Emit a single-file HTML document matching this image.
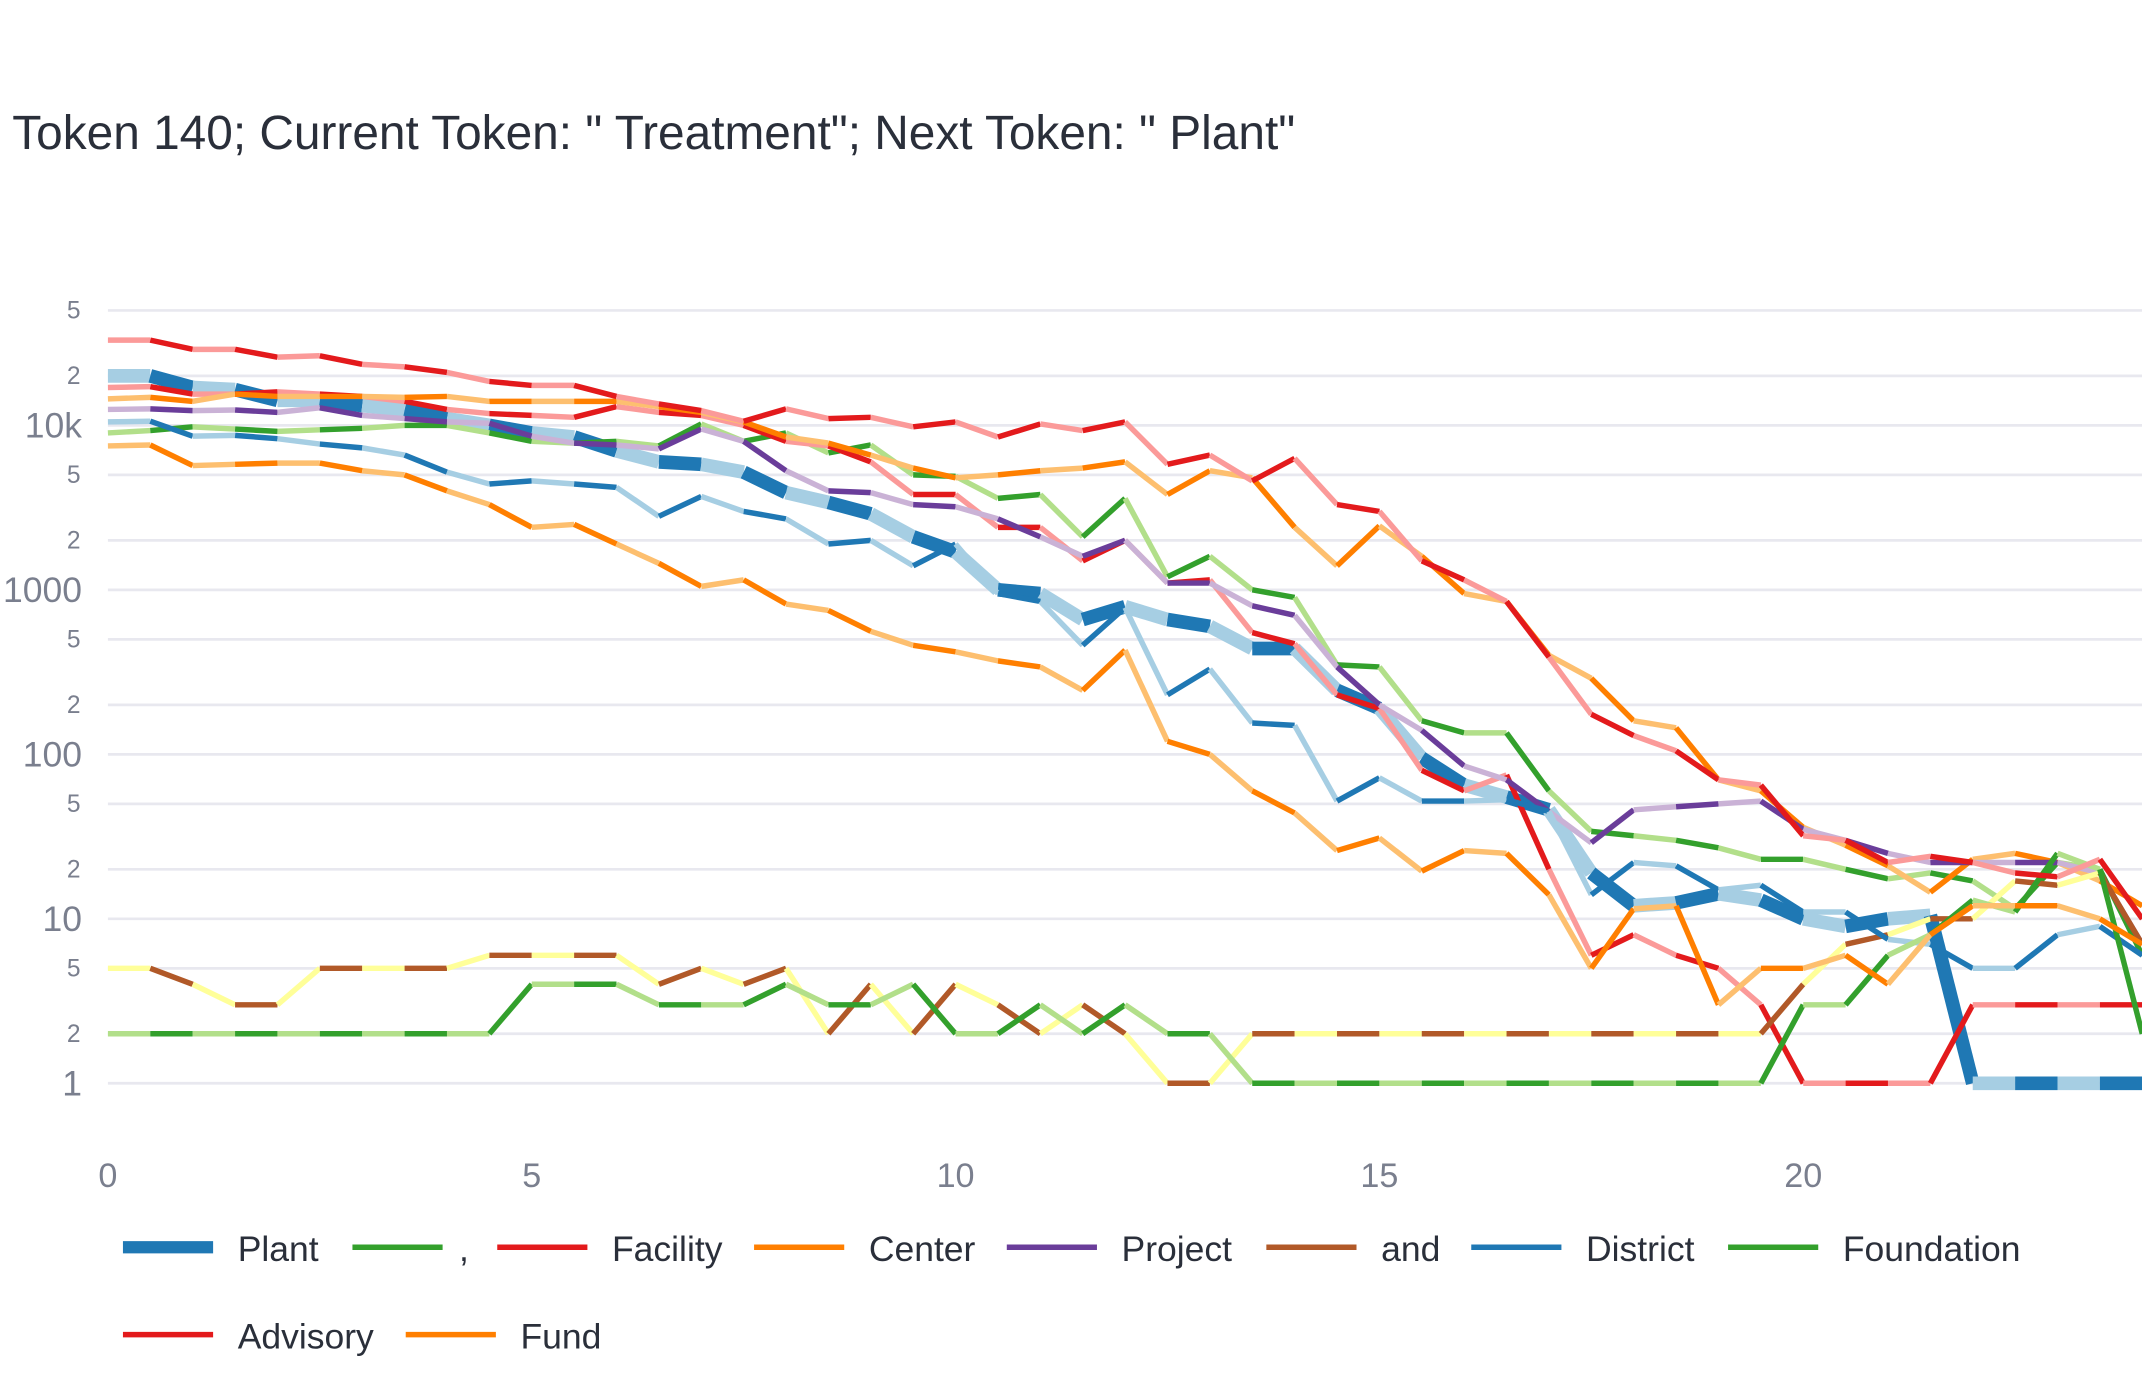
<!DOCTYPE html>
<html><head><meta charset="utf-8"><style>
html,body{margin:0;padding:0;background:#fff;}
svg{display:block;font-family:"Liberation Sans",sans-serif;}
</style></head><body>
<svg id="chart" width="2142" height="1380" viewBox="0 0 1568 1010.2" preserveAspectRatio="none" xmlns="http://www.w3.org/2000/svg">
<text x="9" y="109" font-size="35" fill="#2a2f3a">Token 140; Current Token: " Treatment"; Next Token: " Plant"</text>
<g id="grid"></g><g id="yticks"></g><g id="xticks"></g><g id="lines"></g><g id="legend"></g>
</svg>
<script>
const xs = [0,0.5,1,1.5,2,2.5,3,3.5,4,4.5,5,5.5,6,6.5,7,7.5,8,8.5,9,9.5,10,10.5,11,11.5,12,12.5,13,13.5,14,14.5,15,15.5,16,16.5,17,17.5,18,18.5,19,19.5,20,20.5,21,21.5,22,22.5,23,23.5,24];
const seriesNames = ["Plant", ",", "Facility", "Center", "Project", "and", "District", "Foundation", "Advisory", "Fund"];
const plant = [20000,20000,17000,16500,14200,14200,13200,12400,11000,10000,9000,8500,7000,6000,5800,5200,3900,3400,2900,2100,1700,1000,950,660,790,660,600,440,440,245,190,95,65,55,46,19,12,12.5,14.2,13,10,9,10,10.5,1,1,1,1,1];
const comma = [9000,9300,9800,9500,9200,9400,9600,10000,10000,9000,8000,7800,8000,7500,10200,8000,9000,6800,7600,5000,4900,3600,3800,2100,3600,1200,1600,1000,900,350,340,160,135,135,60,34,32,30,27,23,23,20,17.5,19,17,11.5,22,20,6];
const facility = [17000,17200,15500,15500,16000,15500,15000,14000,12500,11800,11500,11200,13000,12000,11500,10000,8000,7500,6000,3800,3800,2400,2400,1500,2000,1100,1150,550,470,230,190,80,60,75,20,6,8,6,5,3,1,1,1,1,3,3,3,3,3];
const center = [14500,14800,14000,15500,15000,15000,15000,14800,15000,14000,14000,14000,14000,13000,12000,10500,8500,7800,6600,5500,4800,5000,5300,5500,6000,3800,5300,4800,2400,1400,2450,1600,950,850,400,290,160,145,70,60,36,28,21,14.5,23,25,22,17,12];
const project = [12500,12600,12300,12400,12000,12800,11500,11000,10500,10300,8600,7800,7600,7200,9500,8000,5300,4000,3900,3300,3200,2700,2100,1600,2000,1100,1100,800,700,340,200,140,85,70,45,29,46,48,50,52,35,30,25,22,22,22,22,19,7];
const andS = [5,5,4,3,3,5,5,5,5,6,6,6,6,4,5,4,5,2,4,2,4,3,2,3,2,1,1,2,2,2,2,2,2,2,2,2,2,2,2,2,4,7,8,10,10,17,16,19,7];
const district = [10500,10600,8600,8700,8300,7700,7300,6600,5200,4400,4600,4400,4200,2800,3700,3000,2700,1900,2000,1400,1900,950,850,460,780,230,330,155,150,52,72,52,52,53,45,14,22,21,15,16,11,11,7.5,7,5,5,8,9,6];
const foundation = [2,2,2,2,2,2,2,2,2,2,4,4,4,3,3,3,4,3,3,4,2,2,3,2,3,2,2,1,1,1,1,1,1,1,1,1,1,1,1,1,3,3,6,8,13,11,25,20,2];
const advisory = [33000,33000,29000,29000,26000,26500,23500,22700,21000,18500,17500,17500,15000,13500,12300,10600,12600,11000,11200,9800,10500,8500,10200,9300,10500,5800,6600,4600,6300,3300,3000,1500,1150,850,390,175,130,105,70,65,32,30,22,24,22,19,18,23,10];
const fund = [7500,7600,5700,5800,5900,5900,5300,5000,4000,3300,2400,2500,1900,1450,1050,1150,820,750,560,460,420,370,340,245,430,120,100,60,44,26,31,19.5,26,25,14,5,11.5,12,3,5,5,6,4,8,12,12,12,10,7];
const xTickVals = [0,5,10,15,20];
const yMajor = [1,10,100,1000,10000];
const yMajorLabels = ["1","10","100","1000","10k"];

const NS="http://www.w3.org/2000/svg";
const X0=79, XU=62.05, Y1=793, YD=120.4, XMAX=1568;
function xScale(v){return X0+XU*v;}
function yScale(v){return Y1-YD*Math.log10(v);}
function mk(tag,attrs,parent){const e=document.createElementNS(NS,tag);for(const k in attrs)e.setAttribute(k,attrs[k]);parent.appendChild(e);return e;}
const grid=document.getElementById('grid'), yt=document.getElementById('yticks'), xt=document.getElementById('xticks');
for(let d=0; d<5; d++){
  const base=Math.pow(10,d);
  [1,2,5].forEach(m=>{
    const v=base*m; const y=yScale(v);
    const g=mk('line',{x1:X0,x2:XMAX,y1:y,y2:y,stroke:'#e8e8ef','stroke-width':2},grid);
    
    
    const t=mk('text',{x:m===1?60:59,y:y+(m===1?9:6),'text-anchor':'end','font-size':m===1?26:18,fill:'#7a7f8e'},yt);
    t.textContent = m===1 ? yMajorLabels[d] : String(m);
    
    
  });
}
xTickVals.forEach(v=>{
  const t=mk('text',{x:xScale(v),y:869,'text-anchor':'middle','font-size':25,fill:'#7a7f8e'},xt);
  t.textContent=String(v);
  
  
});
const series=[
 {d:plant,dark:'#1f78b4',light:'#a6cee3',w:10},
 {d:comma,dark:'#33a02c',light:'#b2df8a',w:4},
 {d:facility,dark:'#e31a1c',light:'#fb9a99',w:4},
 {d:center,dark:'#ff7f00',light:'#fdbf6f',w:4},
 {d:project,dark:'#6a3d9a',light:'#cab2d6',w:4},
 {d:andS,dark:'#b15928',light:'#ffff99',w:4},
 {d:district,dark:'#1f78b4',light:'#a6cee3',w:4},
 {d:foundation,dark:'#33a02c',light:'#b2df8a',w:4},
 {d:advisory,dark:'#e31a1c',light:'#fb9a99',w:4},
 {d:fund,dark:'#ff7f00',light:'#fdbf6f',w:4}
];
const lines=document.getElementById('lines');
series.forEach((s,si)=>{
  const g=mk('g',{},lines);
  
  
  for(let i=0;i<s.d.length-1;i++){
    const seg=mk('line',{x1:xScale(xs[i]),y1:yScale(s.d[i]),x2:xScale(xs[i+1]),y2:yScale(s.d[i+1]),stroke:i%2===0?s.light:s.dark,'stroke-width':s.w,'stroke-linecap':'butt'},g);
    
    
  }
});
const legPos=[[90,913],[258,913],[364,913],[552,913],[737,913],[927,913],[1077,913],[1265,913],[90,977],[297,977]];
const legend=document.getElementById('legend');
seriesNames.forEach((n,i)=>{
  const [lx,ly]=legPos[i];
  const g=mk('g',{},legend);
  
  
  mk('line',{x1:lx,x2:lx+66,y1:ly,y2:ly,stroke:series[i].dark,'stroke-width':i===0?9:4},g);
  const t=mk('text',{x:(n===','?lx+78:lx+84),y:ly+10,'font-size':26,fill:'#2a2f3a'},g);
  t.textContent=n;
});
</script>
</body></html>
